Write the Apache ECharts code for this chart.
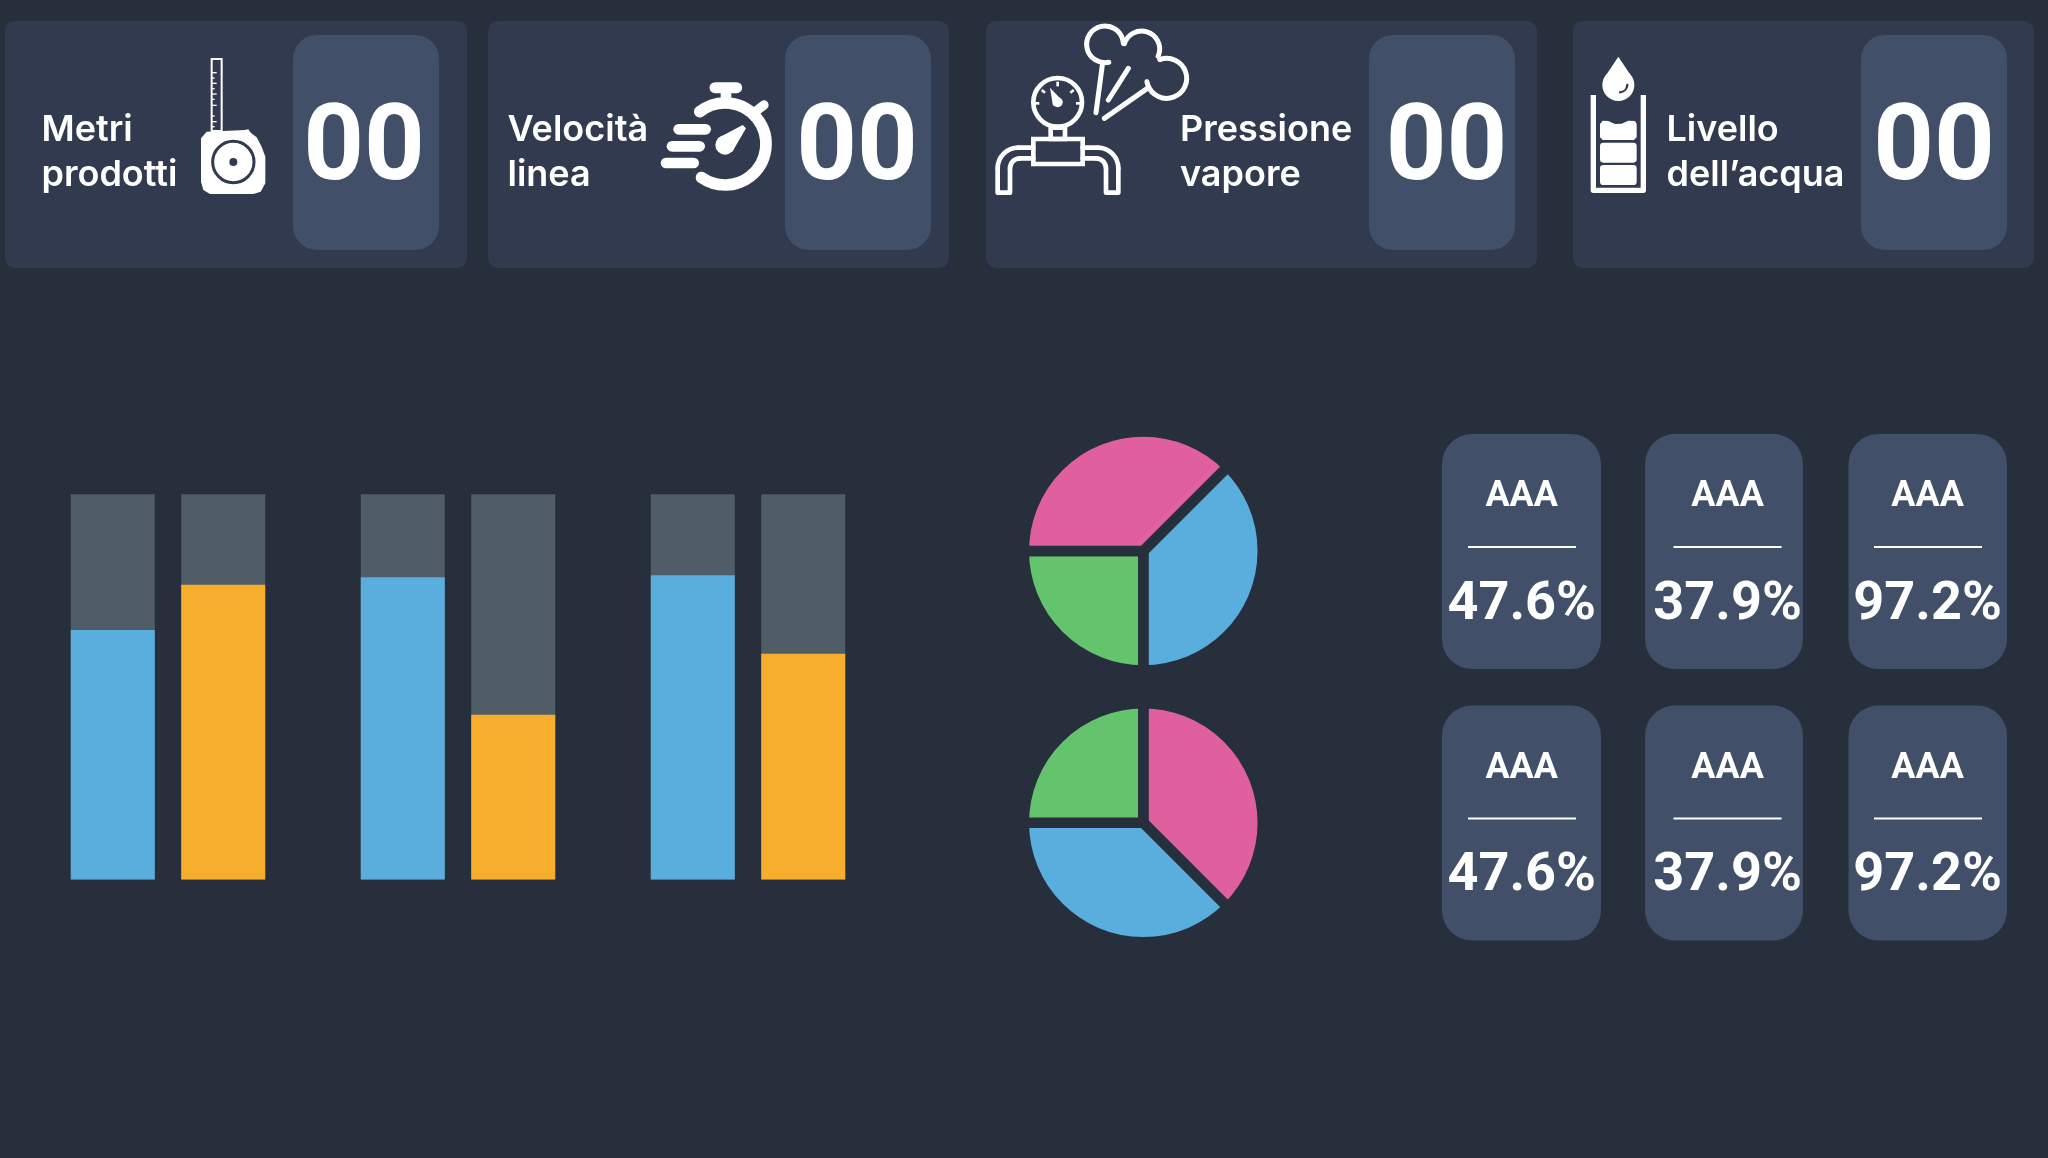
<!DOCTYPE html>
<html>
<head>
<meta charset="utf-8">
<title>Dashboard</title>
<style>
  html, body { margin: 0; padding: 0; background: #272e3c; }
  #main { width: 2048px; height: 1158px; }
</style>
<script src="https://cdn.jsdelivr.net/npm/echarts@6/dist/echarts.min.js"></script>
</head>
<body>
<div id="main"></div>
<script>
// data
const barGroups = ['A', 'B', 'C'];
const blueValues = [64.8, 78.5, 79.0];
const orangeValues = [76.5, 42.8, 58.6];

const pieNames = ['Blu', 'Verde', 'Rosa'];
const pieTopValues = [37.5, 25, 37.5];
const pieBottomValues = [25, 37.5, 37.5];

const panelLines = [['Metri', 'prodotti'], ['Velocità', 'linea'], ['Pressione', 'vapore'], ['Livello', 'dell’acqua']];
const panelCounts = ['00', '00', '00', '00'];

const cardLabels = ['AAA', 'AAA', 'AAA', 'AAA', 'AAA', 'AAA'];
const cardValues = ['47.6%', '37.9%', '97.2%', '47.6%', '37.9%', '97.2%'];

// colours
const bgColor = '#272e3c';
const panelColor = '#313a4e';
const innerColor = '#414f69';
const white = '#ffffff';
const blue = '#59aedd';
const orange = '#f8ae2d';
const pink = '#e0609f';
const green = '#64c46e';
const track = '#505c66';

// small helpers for the decoration
function rad(a) {
    return a * Math.PI / 180;
}
function box(x, y, w, h, r, fill) {
    return { type: 'rect', shape: { x: x, y: y, width: w, height: h, r: r }, style: { fill: fill } };
}
function outline(x, y, w, h, lw) {
    return { type: 'rect', shape: { x: x, y: y, width: w, height: h }, style: { fill: 'none', stroke: white, lineWidth: lw } };
}
function disc(cx, cy, r, fill) {
    return { type: 'circle', shape: { cx: cx, cy: cy, r: r }, style: { fill: fill } };
}
function ring(cx, cy, r, lw, color) {
    return { type: 'circle', shape: { cx: cx, cy: cy, r: r }, style: { fill: 'none', stroke: color, lineWidth: lw } };
}
function stroke(points, lw, cap, color) {
    return {
        type: 'polyline',
        shape: { points: points },
        style: { fill: 'none', stroke: color || white, lineWidth: lw, lineCap: cap || 'round', lineJoin: 'round' }
    };
}
function bow(cx, cy, r, a0, a1, lw, color) {
    return {
        type: 'arc',
        shape: { cx: cx, cy: cy, r: r, startAngle: rad(a0), endAngle: rad(a1), clockwise: true },
        style: { fill: 'none', stroke: color || white, lineWidth: lw, lineCap: 'round' }
    };
}
function poly(points, fill) {
    return { type: 'polygon', shape: { points: points }, style: { fill: fill || white } };
}
function label(text, x, y, font, align) {
    return {
        type: 'text',
        style: {
            text: text, x: x, y: y, font: font, fill: white,
            align: align, textAlign: align, verticalAlign: 'middle', textVerticalAlign: 'middle'
        }
    };
}
// icons are drawn in the coordinates of a 3x crop
function icon(x, y, children) {
    return { type: 'group', x: x, y: y, scaleX: 1 / 3, scaleY: 1 / 3, children: children };
}

function tapeIcon() {
    let ticks = [[68, 80], [84, 74], [100, 80], [116, 74], [132, 80], [148, 74], [166, 80], [198, 74], [215, 80], [230, 74]];
    let parts = [outline(65, 27, 30, 216, 6)];
    ticks.forEach(function (t) {
        parts.push(stroke([[66, t[0]], [t[1], t[0]]], 4, 'butt'));
    });
    parts.push(poly([[50, 245], [165, 240], [175, 238], [182, 248], [200, 262], [215, 290], [226, 320], [226, 400], [212, 425],
        [190, 432], [60, 432], [40, 420], [33, 395], [33, 265]]));
    parts.push(ring(130, 336, 62, 9, panelColor));
    parts.push(disc(130, 336, 12, panelColor));
    return icon(190, 50, parts);
}

function watchIcon() {
    return icon(650, 70, [
        stroke([[195, 53], [260, 53]], 33),
        box(212, 55, 32, 50, 0, white),
        bow(225, 222, 123, -128, 125, 35),
        stroke([[320, 122], [342, 105]], 28),
        stroke([[86, 178], [167, 178]], 32),
        stroke([[66, 229], [149, 229]], 32),
        stroke([[48, 279], [131, 279]], 32),
        disc(225, 225, 29, white),
        poly([[278, 165], [288, 175], [247, 245], [203, 205]])
    ]);
}

function pipeSide() {
    return [
        stroke([[145, 398], [100, 398]], 14),
        bow(100, 460, 62, 180, 270, 14),
        stroke([[38, 460], [38, 533], [75, 533], [75, 460]], 14),
        bow(105, 460, 30, 180, 270, 14),
        stroke([[105, 430], [145, 430]], 14)
    ];
}

function steamIcon() {
    return icon(985, 15, [
        // cloud
        bow(360, 88, 55, 78, 357, 15),
        bow(470, 102, 54, 197, 384, 15),
        bow(545, 190, 60, 250, 530, 15),
        stroke([[352, 150], [333, 293]], 15),
        stroke([[430, 160], [370, 255]], 15),
        stroke([[487, 220], [358, 310]], 15),
        // gauge
        ring(218, 262, 73, 14, white),
        stroke([[218, 200], [218, 214]], 8, 'butt'),
        stroke([[170, 225], [180, 233]], 8, 'butt'),
        stroke([[266, 225], [256, 233]], 8, 'butt'),
        stroke([[150, 265], [163, 265]], 8, 'butt'),
        stroke([[286, 265], [273, 265]], 8, 'butt'),
        poly([[195, 218], [233, 258], [204, 272]]),
        disc(218, 262, 15, white),
        // pipe
        outline(197, 338, 43, 34, 14),
        outline(145, 372, 148, 75, 14),
        { type: 'group', children: pipeSide() },
        { type: 'group', x: 438, scaleX: -1, children: pipeSide() }
    ]);
}

function waterIcon() {
    return icon(1580, 50, [
        disc(115, 105, 48, white),
        poly([[115, 20], [71, 86], [159, 86]]),
        bow(118, 103, 24, 5, 85, 7, panelColor),
        stroke([[40, 135], [40, 421], [190, 421], [190, 135]], 16, 'butt'),
        poly([[60, 222], [68, 212], [85, 213], [105, 222], [125, 221], [145, 212], [165, 213], [170, 222],
            [170, 262], [162, 270], [68, 270], [60, 262]]),
        box(60, 278, 110, 60, 10, white),
        box(60, 345, 110, 60, 10, white)
    ]);
}

// top row of panels plus the grid of cards
function buildGraphic() {
    let out = [];
    let panels = [[5, 462, 293], [488, 461, 785], [986, 551, 1369], [1573, 461, 1861]];
    let textX = [41.5, 507.5, 1180, 1666.5];
    let countX = [364, 857, 1446.5, 1934];
    panels.forEach(function (p, i) {
        out.push(box(p[0], 21, p[1], 247, 10, panelColor));
        out.push(box(p[2], 35, 146, 215, 24, innerColor));
        out.push(label(panelLines[i][0], textX[i], 130.5, '600 36px Inter', 'left'));
        out.push(label(panelLines[i][1], textX[i], 175, '600 36px Inter', 'left'));
        out.push(label(panelCounts[i], countX[i], 152, '700 106px Roboto', 'center'));
    });
    out.push(tapeIcon(), watchIcon(), steamIcon(), waterIcon());

    let cardX = [1442, 1645, 1848.5];
    let cardW = [159, 158, 158.5];
    let lineX = [[1468, 1576], [1673.5, 1781.6], [1874, 1982]];
    let centerX = [1521.7, 1727.6, 1927.6];
    let rowY = [434, 705.5];
    cardValues.forEach(function (v, i) {
        let c = i % 3, y = rowY[Math.floor(i / 3)];
        out.push(box(cardX[c], y, cardW[c], 235, 30, innerColor));
        out.push(label(cardLabels[i], centerX[c], y + 63, '700 36px Roboto', 'center'));
        out.push(stroke([[lineX[c][0], y + 113], [lineX[c][1], y + 113]], 2, 'butt'));
        out.push(label(v, centerX[c], y + 171, '700 54px Roboto', 'center'));
    });
    return out;
}

let chartDom = document.getElementById('main');
let myChart = echarts.init(chartDom);

function barSeries(values, color) {
    return {
        type: 'bar',
        data: values,
        barWidth: 84,
        barGap: '31.5%',
        showBackground: true,
        backgroundStyle: { color: track },
        itemStyle: { color: color },
        silent: true
    };
}

function pieSeries(center, startAngle, values, colors) {
    return {
        type: 'pie',
        center: center,
        radius: [0, 119.5],
        startAngle: startAngle,
        clockwise: true,
        silent: true,
        label: { show: false },
        labelLine: { show: false },
        itemStyle: { borderColor: bgColor, borderWidth: 10.5 },
        data: values.map(function (v, i) {
            return { name: pieNames[i], value: v, itemStyle: { color: colors[i] } };
        })
    };
}

let option = {
    backgroundColor: bgColor,
    animation: false,
    grid: { left: 23, top: 494.3, width: 870, height: 385.3 },
    xAxis: { type: 'category', data: barGroups, show: false },
    yAxis: { type: 'value', min: 0, max: 100, show: false },
    graphic: { elements: buildGraphic() },
    series: [
        barSeries(blueValues, blue),
        barSeries(orangeValues, orange),
        pieSeries([1143.3, 551], 45, pieTopValues, [blue, green, pink]),
        // clockwise from the top: pink, blue, green
        pieSeries([1143.3, 822.8], 90, [pieBottomValues[1], pieBottomValues[2], pieBottomValues[0]], [pink, blue, green])
    ]
};
myChart.setOption(option);
</script>
</body>
</html>
